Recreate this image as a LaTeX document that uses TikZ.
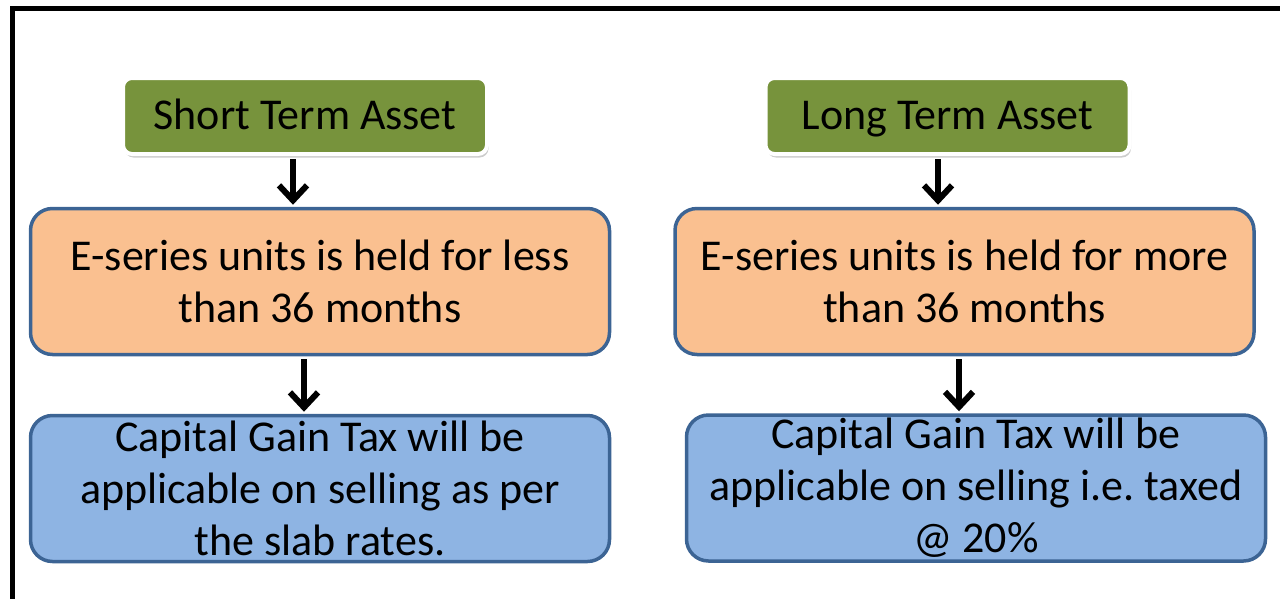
\documentclass[tikz,border=0pt]{standalone}
\usepackage{fontspec}
\setmainfont{Carlito}
\usetikzlibrary{arrows.meta,shadows}
\definecolor{assetgreen}{HTML}{77933C}
\definecolor{heldorange}{HTML}{FAC090}
\definecolor{taxblue}{HTML}{8EB4E3}
\definecolor{edgeblue}{HTML}{3C6494}
\begin{document}
\begin{tikzpicture}
  [x=1pt,y=-1pt,
   asset/.style={rectangle,rounded corners=9pt,fill=assetgreen,draw=white,line width=4pt,
     minimum width=364pt,minimum height=76pt,inner sep=0pt,text height=30pt,text depth=4pt,
     drop shadow={shadow xshift=1.5pt,shadow yshift=-3.5pt,opacity=0.4,fill=black!50}},
   held/.style={rectangle,rounded corners=22pt,fill=heldorange,draw=edgeblue,line width=3.5pt,
     minimum width=579pt,minimum height=146pt,inner sep=0pt,align=center},
   tax/.style={held,fill=taxblue},
   flow/.style={-{Straight Barb[length=15pt,width=28pt]},line width=6pt}]
\useasboundingbox (0,0) rectangle (1280,598); % fixes the page
\clip (0,0) rectangle (1280,598);
\fontsize{44}{52}\selectfont
\draw [line width=5pt] (12,620) -- (12,8) -- (1300,8); % outer frame
%
\node at (305,116) (short) [asset] {Short Term Asset};
\node at (947.5,116) (long) [asset] {Long Term Asset};
\node at (320,281.5) (lessheld) [held] {E-series units is held for less\\than 36 months};
\node at (964.5,281.5) (moreheld) [held] {E-series units is held for more\\than 36 months};
\node at (320,488.5) (slabtax) [tax] {Capital Gain Tax will be\\applicable on selling as per\\the slab rates.};
\node at (976,488) (flattax) [tax] {Capital Gain Tax will be\\applicable on selling i.e.\ taxed\\@ 20\%};
%
\draw [flow] ([xshift=-12pt,yshift=-3pt]short.south) -- ([xshift=-12pt,yshift=2pt]short.south |- lessheld.north);
\draw [flow] ([xshift=-9.5pt,yshift=-3pt]long.south) -- ([xshift=-9.5pt,yshift=2pt]long.south |- moreheld.north);
\draw [flow] ([xshift=-16pt,yshift=-3pt]lessheld.south) -- ([xshift=-16pt,yshift=2pt]lessheld.south |- slabtax.north);
\draw [flow] ([xshift=-5.5pt,yshift=-3pt]moreheld.south) -- ([xshift=-5.5pt,yshift=2pt]moreheld.south |- flattax.north);
\end{tikzpicture}
\end{document}
